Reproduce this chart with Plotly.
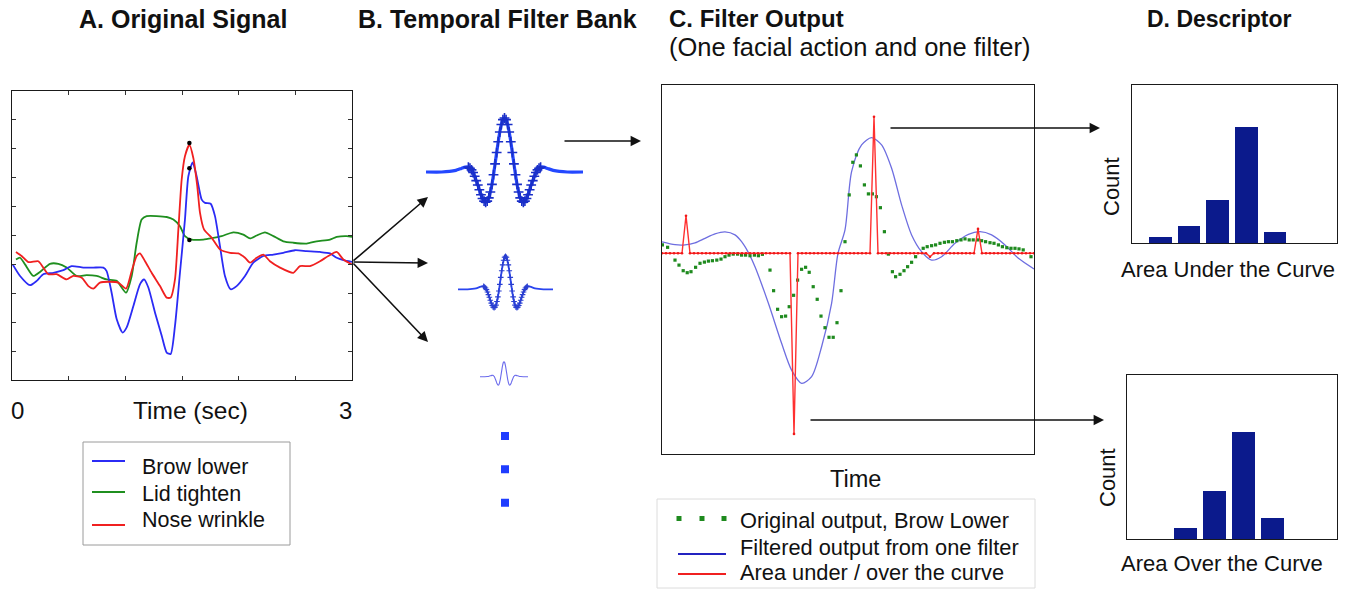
import plotly.graph_objects as go

W, H = 1350, 591
FONT = "Liberation Sans, Arial, sans-serif"

# ---------------- Panel A: original signal (time in sec, arbitrary amplitude) -------------
a_blue_t = [0.006,0.071,0.159,0.218,0.276,0.365,0.453,0.526,0.629,0.718,0.806,0.835,0.879,0.924,0.976,1.012,1.071,1.129,1.165,1.203,1.262,1.321,1.365,1.400,1.438,1.482,1.526,1.556,1.594,1.629,1.674,1.703,1.753,1.791,1.835,1.879,1.929,1.982,2.056,2.129,2.218,2.306,2.394,2.497,2.600,2.718,2.806,2.865,2.924,3.000]
a_blue_v = [4.00,3.60,3.28,3.43,3.66,3.71,3.80,3.94,3.89,3.89,3.89,3.77,3.02,2.10,1.64,1.82,2.56,3.31,3.48,3.20,2.33,1.53,0.95,0.90,1.87,3.71,5.55,7.05,7.53,7.05,6.24,6.13,6.10,5.67,4.63,3.60,3.14,3.25,3.60,4.06,4.29,4.34,4.40,4.49,4.46,4.43,4.38,4.23,4.15,4.09]
a_red_t = [0.035,0.085,0.144,0.232,0.276,0.321,0.394,0.482,0.541,0.615,0.674,0.718,0.776,0.865,0.938,1.006,1.056,1.100,1.129,1.174,1.232,1.306,1.365,1.400,1.438,1.468,1.497,1.526,1.565,1.600,1.635,1.659,1.694,1.762,1.835,1.924,1.997,2.056,2.100,2.159,2.218,2.276,2.365,2.482,2.541,2.629,2.718,2.791,2.865,2.924,3.000]
a_red_v = [4.43,4.29,4.08,4.11,3.89,3.66,3.66,3.48,3.60,3.54,3.25,3.16,3.37,3.40,3.37,3.16,3.77,4.29,4.38,4.11,3.71,3.25,2.85,2.85,3.48,5.21,6.93,7.74,8.14,7.68,6.70,5.78,5.21,4.92,4.52,4.40,4.38,4.23,4.06,4.23,4.34,4.11,3.89,3.71,3.94,3.94,4.11,4.29,4.43,4.17,4.00]
a_green_t = [0.035,0.071,0.115,0.188,0.247,0.335,0.409,0.482,0.571,0.659,0.747,0.835,0.924,1.006,1.056,1.100,1.144,1.188,1.365,1.424,1.482,1.526,1.585,1.688,1.776,1.850,1.953,2.041,2.100,2.159,2.232,2.306,2.394,2.482,2.600,2.688,2.806,2.865,2.953,3.000]
a_green_v = [4.17,4.23,4.00,3.60,3.74,4.02,4.02,3.89,3.60,3.63,3.60,3.48,3.43,3.02,3.60,4.75,5.55,5.67,5.64,5.55,5.32,4.98,4.86,4.86,4.92,4.98,5.11,5.03,4.90,5.00,5.11,4.98,4.80,4.75,4.72,4.80,4.86,4.95,4.98,4.95]
a_dots_t = [1.565, 1.565, 1.565]
a_dots_v = [8.20, 7.33, 4.84]

# ---------------- Panel B: filter shape (normalised time, amplitude) ----------------------
w_t = [-1.0,-0.8,-0.7,-0.62,-0.55,-0.5,-0.46,-0.44,-0.42,-0.40,-0.38,-0.36,-0.34,-0.32,-0.30,-0.28,-0.26,-0.24,-0.22,-0.20,-0.18,-0.16,-0.14,-0.12,-0.10,-0.08,-0.06,-0.04,-0.02,0.0,
       0.02,0.04,0.06,0.08,0.10,0.12,0.14,0.16,0.18,0.20,0.22,0.24,0.26,0.28,0.30,0.32,0.34,0.36,0.38,0.40,0.42,0.44,0.46,0.5,0.55,0.62,0.7,0.8,1.0]
w_a = [0.0,0.0,0.01,0.03,0.065,0.09,0.09,0.07,0.04,-0.01,-0.08,-0.16,-0.24,-0.33,-0.42,-0.49,-0.54,-0.56,-0.54,-0.48,-0.37,-0.23,-0.05,0.15,0.36,0.56,0.74,0.88,0.97,1.0,
       0.97,0.88,0.74,0.56,0.36,0.15,-0.05,-0.23,-0.37,-0.48,-0.54,-0.56,-0.54,-0.49,-0.42,-0.33,-0.24,-0.16,-0.08,-0.01,0.04,0.07,0.09,0.09,0.065,0.03,0.01,0.0,0.0]
dots_level = [1, 2, 3]

# ---------------- Panel C: filter output (sample index, response) ------------------------
c_blue_x = [0,3.25,5.75,8.25,10.75,13.25,15.75,18.25,19.9,21.5,23.25,26.6,29.9,32.4,34.9,37.4,39.9,42.4,44.0,45.75,47.4,49.9,52.4,54.9,57.4,59.9,62.4,64.9,67.4,69.9,73.25,76.6,79.5,82.4,85.75,89.1,93.0]
c_blue_y = [0.57,0.43,0.42,0.52,0.75,0.97,1.07,0.92,0.58,0.07,-0.67,-2.5,-4.5,-5.84,-6.5,-6.17,-4.67,-2.5,0.0,1.17,4.08,5.42,5.78,5.42,4.25,2.42,0.92,0.08,-0.34,-0.17,0.5,0.95,1.08,0.92,0.42,-0.25,-0.78]
c_green_x = [0.1,1.4,3.25,4.25,5.3,6.3,7.25,8.4,9.5,10.6,11.6,12.6,13.7,14.75,15.75,16.75,17.8,18.9,19.9,20.9,22.0,23.1,24.1,25.1,27.0,27.9,28.9,29.9,30.9,31.8,32.9,33.9,34.9,35.9,36.8,37.8,38.8,39.75,40.75,41.75,42.8,43.75,44.75,45.75,
             46.8,47.7,48.6,49.6,50.6,51.6,52.6,53.6,54.6,55.6,56.6,57.6,58.4,59.5,60.5,61.4,62.4,63.4,65.3,66.3,67.4,68.4,69.5,70.6,71.6,72.6,73.7,74.75,75.75,76.8,77.8,78.9,79.9,80.9,82.0,83.0,84.1,85.1,86.2,87.25,88.25,89.25,90.3,92.25]
c_green_y = [0.42,0.3,-0.34,-0.59,-0.87,-0.97,-0.92,-0.7,-0.5,-0.44,-0.39,-0.37,-0.34,-0.29,-0.17,-0.09,-0.04,-0.04,-0.09,-0.09,-0.12,-0.09,-0.12,-0.05,-0.84,-1.87,-2.8,-3.17,-3.14,-2.67,-2.1,-1.34,-0.8,-0.7,-0.95,-1.67,-2.3,-3.14,-3.72,-4.2,-4.2,-3.47,-1.87,0.58,
             2.92,4.55,4.92,4.37,3.42,2.97,2.97,2.83,2.28,1.08,-0.04,-0.92,-1.17,-1.05,-0.87,-0.67,-0.45,-0.17,0.25,0.33,0.38,0.42,0.5,0.55,0.58,0.58,0.63,0.67,0.72,0.67,0.67,0.67,0.63,0.58,0.53,0.5,0.42,0.33,0.28,0.25,0.25,0.22,0.17,-0.17]
c_n_samples = 94
c_red_spike_idx = [6, 33, 53, 67, 79]
c_red_spike_val = [1.88, -9.03, 6.83, -0.17, 1.22]

# ---------------- Panel D: descriptor histograms --------------------------------------------
d_top_bins = [1, 2, 3, 4, 5]
d_top_counts = [2, 6, 15, 41, 4]
d_bot_bins = [2, 3, 4, 5]
d_bot_counts = [4, 18, 40, 8]

# ---------------- helpers ----------------
def xd(p0, p1):
    return [p0 / W, p1 / W]

def yd(top, bot):
    return [1 - bot / H, 1 - top / H]

def px(p):
    return p / W

def py(p):
    return 1 - p / H

fig = go.Figure()
layout = {}

def axis_pair(n, xdom, ydom, xr, yr, style):
    xs = "xaxis" if n == 1 else f"xaxis{n}"
    ys = "yaxis" if n == 1 else f"yaxis{n}"
    xa = dict(domain=xdom, range=xr, anchor="y" if n == 1 else f"y{n}")
    ya = dict(domain=ydom, range=yr, anchor="x" if n == 1 else f"x{n}")
    if style == "hidden":
        xa.update(visible=False)
        ya.update(visible=False)
    else:
        for a in (xa, ya):
            a.update(showline=True, linecolor="#1a1a1a", linewidth=1.3, mirror=True,
                     showgrid=False, zeroline=False, showticklabels=False, ticks="")
        if style == "ticks":
            xa.update(ticks="inside", ticklen=4, tickcolor="#333", mirror="ticks",
                      tickvals=[0, 0.5, 1, 1.5, 2, 2.5, 3])
            ya.update(ticks="inside", ticklen=4, tickcolor="#333", mirror="ticks",
                      tickvals=list(range(0, 11)))
    layout[xs] = xa
    layout[ys] = ya

# Panel A axes
axis_pair(1, xd(12, 352), yd(91, 380), [0, 3], [0, 10], "ticks")
# Panel B wavelets
axis_pair(2, xd(426, 583), yd(172 - 1.2 * 54, 172 + 54), [-1, 1], [-1, 1.2], "hidden")
axis_pair(3, xd(458, 553), yd(289.3 - 1.2 * 33, 289.3 + 33), [-1, 1], [-1, 1.2], "hidden")
axis_pair(4, xd(480, 528), yd(376.7 - 1.2 * 15, 376.7 + 15), [-1, 1], [-1, 1.2], "hidden")
axis_pair(5, xd(495, 515), yd(402.7, 536), [0, 1], [0, 4], "hidden")
# Panel C
axis_pair(6, xd(662, 1034), yd(85, 454), [0, 93], [-10.035, 8.415], "box")
# Panel D
axis_pair(7, xd(1132, 1337), yd(85, 243), [0, 7.17], [0, 55.7], "box")
axis_pair(8, xd(1127, 1337), yd(375, 539), [0, 7.22], [0, 61.1], "box")

BLUE, GREEN, RED = "#2b2bf5", "#1f8f1f", "#f02020"

# ---- Panel A traces
fig.add_trace(go.Scatter(x=a_green_t, y=a_green_v, mode="lines", xaxis="x", yaxis="y",
                         line=dict(color=GREEN, width=1.8, shape="spline", smoothing=0.6)))
fig.add_trace(go.Scatter(x=a_blue_t, y=a_blue_v, mode="lines", xaxis="x", yaxis="y",
                         line=dict(color=BLUE, width=1.8, shape="spline", smoothing=0.6)))
fig.add_trace(go.Scatter(x=a_red_t, y=a_red_v, mode="lines", xaxis="x", yaxis="y",
                         line=dict(color=RED, width=1.8, shape="spline", smoothing=0.6)))
fig.add_trace(go.Scatter(x=a_dots_t, y=a_dots_v, mode="markers", xaxis="x", yaxis="y",
                         marker=dict(color="black", size=4.5)))

# ---- Panel B traces
core_t = [t for t, a in zip(w_t, w_a) if abs(t) <= 0.46]
core_a = [a for t, a in zip(w_t, w_a) if abs(t) <= 0.46]
fig.add_trace(go.Scatter(x=w_t, y=w_a, mode="lines", xaxis="x2", yaxis="y2",
                         line=dict(color="#2448ff", width=3.2, shape="spline", smoothing=0.5)))
fig.add_trace(go.Scatter(x=core_t, y=core_a, mode="markers", xaxis="x2", yaxis="y2",
                         marker=dict(symbol="cross-thin", size=7, color="#1a2fc8",
                                     line=dict(width=1.6, color="#1a2fc8"))))
fig.add_trace(go.Scatter(x=w_t, y=w_a, mode="lines", xaxis="x3", yaxis="y3",
                         line=dict(color="#2a45f0", width=1.8, shape="spline", smoothing=0.5)))
fig.add_trace(go.Scatter(x=core_t, y=core_a, mode="markers", xaxis="x3", yaxis="y3",
                         marker=dict(symbol="cross-thin", size=4, color="#2a3fd0",
                                     line=dict(width=1.1, color="#2a3fd0"))))
fig.add_trace(go.Scatter(x=w_t, y=w_a, mode="lines", xaxis="x4", yaxis="y4",
                         line=dict(color="#6b6bec", width=1.1, shape="spline", smoothing=0.5)))
fig.add_trace(go.Scatter(x=[0.5] * len(dots_level), y=dots_level, mode="markers", xaxis="x5", yaxis="y5",
                         marker=dict(symbol="square", size=8, color="#1f3dff")))

# ---- Panel C traces
red_x = list(range(c_n_samples))
red_y = [0.0] * c_n_samples
for i, v in zip(c_red_spike_idx, c_red_spike_val):
    red_y[i] = v
fig.add_trace(go.Scatter(x=c_blue_x, y=c_blue_y, mode="lines", xaxis="x6", yaxis="y6",
                         line=dict(color="#6e6ee0", width=1.3, shape="spline", smoothing=0.8)))
fig.add_trace(go.Scatter(x=c_green_x, y=c_green_y, mode="markers", xaxis="x6", yaxis="y6",
                         marker=dict(symbol="square", size=3.2, color="#1e8a1e")))
fig.add_trace(go.Scatter(x=red_x, y=red_y, mode="lines+markers", xaxis="x6", yaxis="y6",
                         line=dict(color="#ff3030", width=1.4),
                         marker=dict(size=2.6, color="#f01818")))

# ---- Panel D traces
fig.add_trace(go.Bar(x=d_top_bins, y=d_top_counts, width=0.79, xaxis="x7", yaxis="y7",
                     marker=dict(color="#0b1a8c", line=dict(width=0))))
fig.add_trace(go.Bar(x=d_bot_bins, y=d_bot_counts, width=0.8, xaxis="x8", yaxis="y8",
                     marker=dict(color="#0b1a8c", line=dict(width=0))))

# ---------------- annotations ----------------
ann = []

def text(x, y, s, size, xanchor="center", bold=False, angle=0, color="#111"):
    ann.append(dict(x=px(x), y=py(y), xref="paper", yref="paper", text=(f"<b>{s}</b>" if bold else s),
                    showarrow=False, xanchor=xanchor, yanchor="middle", textangle=angle,
                    font=dict(family=FONT, size=size, color=color)))

def arrow(x0, y0, x1, y1):
    ann.append(dict(x=px(x1), y=py(y1), xref="paper", yref="paper", ax=x0 - x1, ay=y0 - y1,
                    axref="pixel", ayref="pixel", showarrow=True, arrowhead=2, arrowsize=1.3,
                    arrowwidth=1.6, arrowcolor="#111", text=""))

text(183, 19, "A. Original Signal", 25, bold=True)
text(497, 19, "B. Temporal Filter Bank", 25, bold=True)
text(667, 19, "C. Filter Output", 24, xanchor="left", bold=True)
text(667, 47, "(One facial action and one filter)", 25.5, xanchor="left")
text(1219, 19, "D. Descriptor", 23, bold=True)

text(17, 410, "0", 24)
text(190, 410, "Time (sec)", 24.5)
text(345, 410, "3", 24)
text(855, 479, "Time", 23.5)
text(1111, 187, "Count", 22, angle=-90)
text(1108, 478, "Count", 22, angle=-90)
text(1228, 269, "Area Under the Curve", 22)
text(1222, 563, "Area Over the Curve", 22)

# legend A
text(140, 467, "Brow lower", 21.5, xanchor="left")
text(140, 494, "Lid tighten", 21.5, xanchor="left")
text(140, 520, "Nose wrinkle", 21.5, xanchor="left")
# legend C
text(738, 520, "Original output, Brow Lower", 21.8, xanchor="left")
text(738, 547, "Filtered output from one filter", 21.8, xanchor="left")
text(738, 572, "Area under / over the curve", 21.8, xanchor="left")

arrow(352, 262, 428, 197)
arrow(352, 262, 428, 263)
arrow(352, 262, 428, 342)
arrow(563, 141, 641, 141)
arrow(889, 128, 1100, 128)
arrow(809, 420, 1104, 420)

shapes = []

def pline(x0, y0, x1, y1, color, width):
    shapes.append(dict(type="line", xref="paper", yref="paper", x0=px(x0), y0=py(y0), x1=px(x1), y1=py(y1),
                       line=dict(color=color, width=width)))

def prect(x0, y0, x1, y1, line_color, fill=None, width=1):
    shapes.append(dict(type="rect", xref="paper", yref="paper", x0=px(x0), y0=py(y0), x1=px(x1), y1=py(y1),
                       line=dict(color=line_color, width=width), fillcolor=fill))

prect(83, 442, 290, 545, "#9a9a9a", width=1)
pline(92, 461, 125, 461, BLUE, 2)
pline(92, 492, 125, 492, GREEN, 2)
pline(92, 525, 125, 525, RED, 2)

prect(657, 499, 1035, 588, "#dcdcdc", width=1)
for gx in (679, 702, 724):
    prect(gx - 2.5, 516, gx + 2.5, 521, "#1e8a1e", fill="#1e8a1e", width=0)
pline(678, 554, 726, 554, "#2323c0", 2)
pline(678, 574, 726, 574, RED, 2)

fig.update_layout(width=W, height=H, margin=dict(l=0, r=0, t=0, b=0), showlegend=False,
                  paper_bgcolor="white", plot_bgcolor="rgba(0,0,0,0)", bargap=0,
                  annotations=ann, shapes=shapes, **layout)

fig.write_html("out.html", config={"displayModeBar": False},
               post_script="document.body.style.margin='0px';")
